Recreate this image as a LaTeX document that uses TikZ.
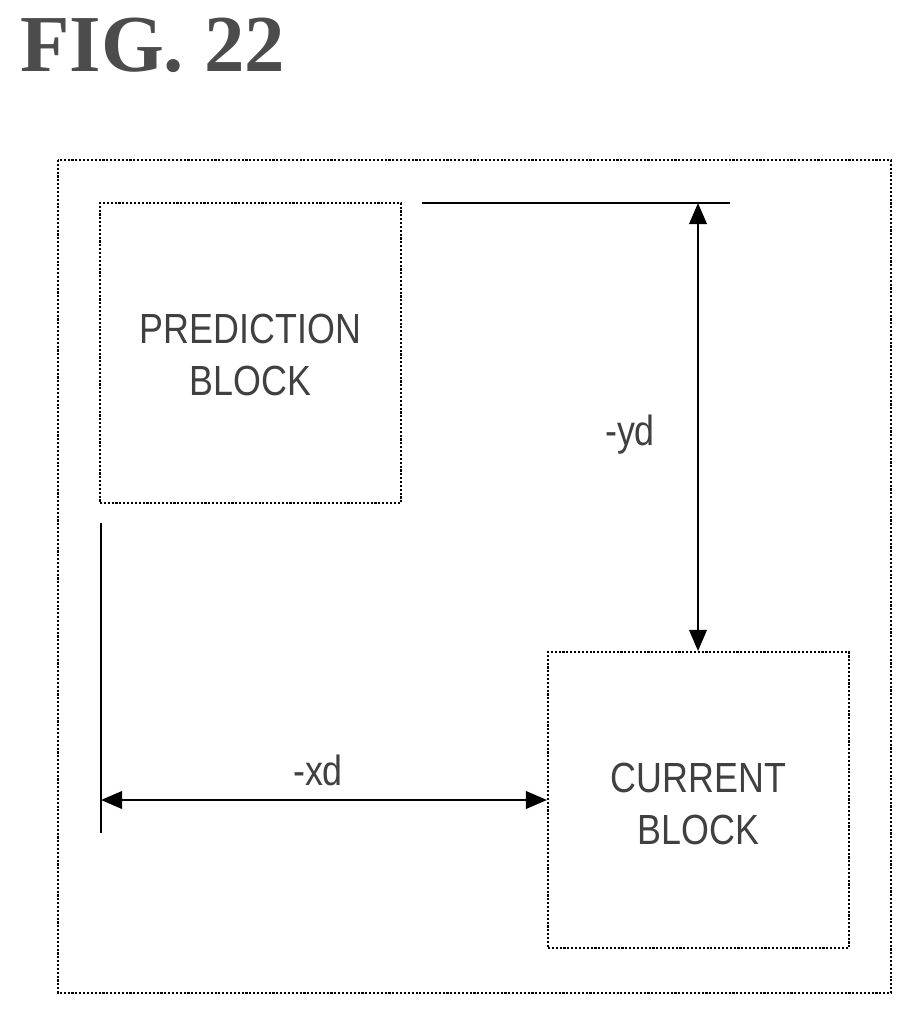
\documentclass[tikz,border=0pt]{standalone}
\usepackage{fontspec}
\setmainfont{Liberation Serif}
\setsansfont{Liberation Sans}
\usetikzlibrary{arrows.meta}
\begin{document}
\begin{tikzpicture}[x=0.02cm,y=-0.02cm,
  box/.style={draw,line width=1.2pt,densely dotted},
  lab/.style={font=\sffamily\fontsize{24}{30}\selectfont,align=center,text=black!75,xscale=0.85},
  ln/.style={line width=1.2pt},
  arr/.style={ln,{Triangle[length=12pt,width=10pt]}-{Triangle[length=12pt,width=10pt]}}]
\useasboundingbox (0,0) rectangle (913,1015);
\node[anchor=west,font=\bfseries\fontsize{46}{50}\selectfont,text=black!70] (title) at (14,45) {FIG. 22};
\draw[box] (58,160) rectangle (891,993);
\node[box,minimum width=6.02cm,minimum height=6cm] (pred) at (250.5,353) {};
\node[lab] (pt) at (250.5,355) {PREDICTION\\BLOCK};
\node[box,minimum width=6.02cm,minimum height=5.92cm] (cur) at (698.5,800) {};
\node[lab] (ct) at (698.5,804) {CURRENT\\BLOCK};
\coordinate (t1) at (422,203); \coordinate (t2) at (730,203);
\draw[ln] (t1) -- (t2);
\coordinate (ya) at (698,203);
\draw[arr] (ya) -- (cur.north -| ya);
\node[lab] (yd) at (630,435) {-yd};
\coordinate (l1) at (101,523); \coordinate (l2) at (101,833);
\draw[ln] (l1) -- (l2);
\coordinate (xa) at (101,800);
\draw[arr] (xa) -- (cur.west |- xa);
\node[lab] (xd) at (318,770) {-xd};
\end{tikzpicture}
\end{document}
